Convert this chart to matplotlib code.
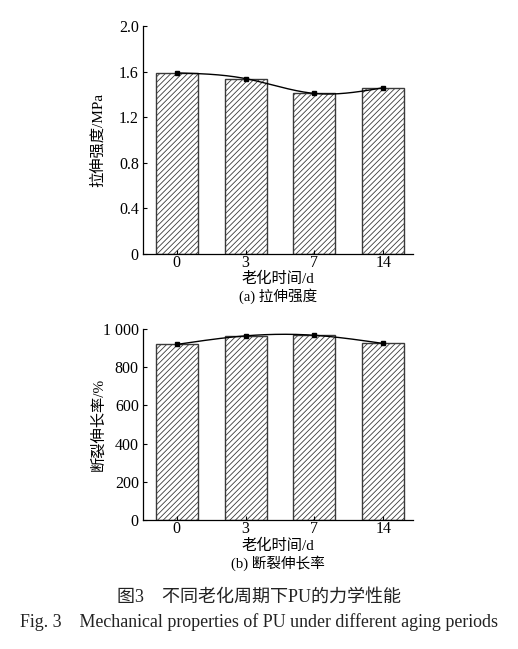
"""
plot.py

Mechanical properties of PU under different aging periods (two stacked bar charts
with a smooth trend line through the bar tops).
"""

import numpy as np
import matplotlib

matplotlib.use("Agg")
import matplotlib.pyplot as plt

plt.rcParams["font.family"] = ["Liberation Serif", "Noto Sans CJK SC"]
plt.rcParams["hatch.color"] = "#969696"
plt.rcParams["hatch.linewidth"] = 0.6

aging_days = ["0", "3", "7", "14"]
tensile_strength = [1.59, 1.54, 1.41, 1.46]
elongation = [920, 965, 968, 925]

tensile_ticks = [0, 0.4, 0.8, 1.2, 1.6, 2.0]
tensile_tick_labels = ["0", "0.4", "0.8", "1.2", "1.6", "2.0"]
elong_ticks = [0, 200, 400, 600, 800, 1000]
elong_tick_labels = ["0", "200", "400", "600", "800", "1 000"]


def natural_spline(x, y, n=200):
    """Smooth curve through the points (natural cubic spline)."""
    x = np.asarray(x, float)
    y = np.asarray(y, float)
    k = len(x)
    h = np.diff(x)
    A = np.zeros((k, k))
    b = np.zeros(k)
    A[0, 0] = A[-1, -1] = 1
    for i in range(1, k - 1):
        A[i, i - 1] = h[i - 1]
        A[i, i] = 2 * (h[i - 1] + h[i])
        A[i, i + 1] = h[i]
        b[i] = 6 * ((y[i + 1] - y[i]) / h[i] - (y[i] - y[i - 1]) / h[i - 1])
    m = np.linalg.solve(A, b)
    xs = np.linspace(x[0], x[-1], n)
    idx = np.clip(np.searchsorted(x, xs) - 1, 0, k - 2)
    x0, x1 = x[idx], x[idx + 1]
    hh = x1 - x0
    t0, t1 = x1 - xs, xs - x0
    ys = (
        m[idx] * t0**3 / (6 * hh)
        + m[idx + 1] * t1**3 / (6 * hh)
        + (y[idx] / hh - m[idx] * hh / 6) * t0
        + (y[idx + 1] / hh - m[idx + 1] * hh / 6) * t1
    )
    return xs, ys


def draw_panel(ax, values, ticks, tick_labels, ylim, ylabel, xlabel, subtitle):
    pos = np.arange(len(aging_days))
    ax.bar(
        pos,
        values,
        width=0.61,
        facecolor="white",
        edgecolor="#3a3a3a",
        linewidth=1.0,
        hatch="//////",
    )
    xs, ys = natural_spline(pos, values)
    ax.plot(xs, ys, color="black", linewidth=1.0)
    ax.plot(pos, values, "s", color="black", markersize=3)

    ax.set_xlim(-0.49, 3.43)
    ax.set_ylim(*ylim)
    ax.set_xticks(pos)
    ax.set_xticklabels(aging_days)
    ax.set_yticks(ticks)
    ax.set_yticklabels(tick_labels)
    ax.tick_params(direction="in", length=3, width=0.8, labelsize=11.5)
    ax.tick_params(axis="x", pad=1)
    ax.tick_params(axis="y", pad=3)
    ax.spines["top"].set_visible(False)
    ax.spines["right"].set_visible(False)
    ax.spines["left"].set_linewidth(0.9)
    ax.spines["bottom"].set_linewidth(0.9)
    ax.set_ylabel(ylabel, fontsize=11)
    ax.yaxis.set_label_coords(-0.14, 0.5)
    # x label and panel caption placed by hand, as in the printed figure
    ax.text(0.5, xlabel[1], xlabel[0], transform=ax.transAxes,
            ha="center", va="center", fontsize=11)
    ax.text(0.5, subtitle[1], subtitle[0], transform=ax.transAxes,
            ha="center", va="center", fontsize=10.5)


fig = plt.figure(figsize=(5.18, 6.49), dpi=100)
fig.patch.set_facecolor("white")

ax1 = fig.add_axes([0.276, 0.6086, 0.521, 0.351])
ax2 = fig.add_axes([0.276, 0.1988, 0.521, 0.294])

draw_panel(ax1, tensile_strength, tensile_ticks, tensile_tick_labels, (0, 2.0),
           "拉伸强度/MPa", ("老化时间/d", -0.107), ("(a) 拉伸强度", -0.183))
draw_panel(ax2, elongation, elong_ticks, elong_tick_labels, (0, 1000),
           "断裂伸长率/%", ("老化时间/d", -0.138), ("(b) 断裂伸长率", -0.229))

fig.text(0.5, 1 - 597 / 649, "图3　不同老化周期下PU的力学性能",
         ha="center", va="center", fontsize=13, color="#222222")
fig.text(0.5, 1 - 622 / 649, "Fig. 3　Mechanical properties of PU under different aging periods",
         ha="center", va="center", fontsize=12.9, color="#222222")

fig.savefig("out.png", dpi=100, facecolor="white")
